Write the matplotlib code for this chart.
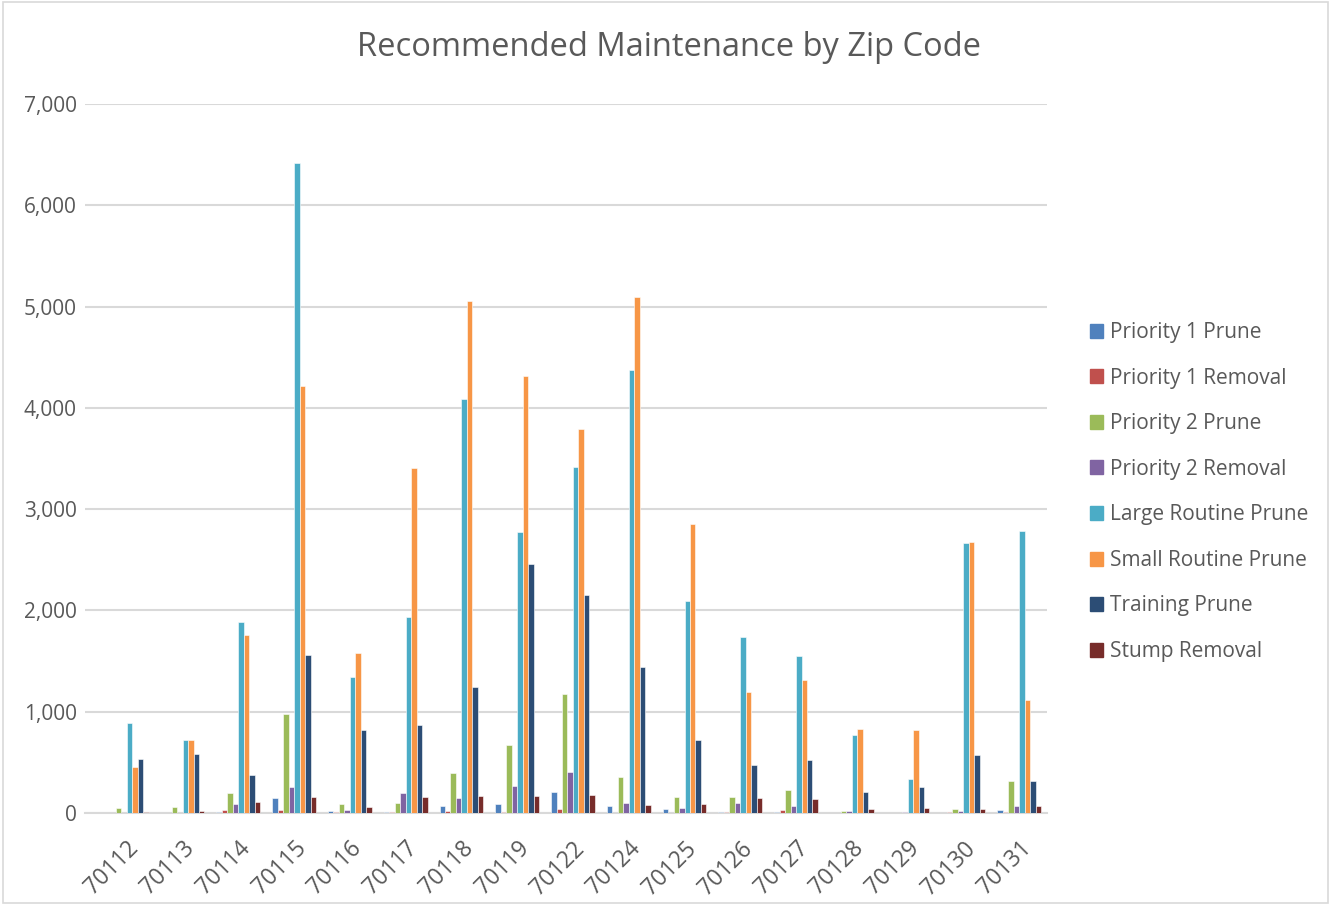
import matplotlib
matplotlib.use("Agg")
import matplotlib.pyplot as plt
import matplotlib.patches as mpatches
import numpy as np

zips = ['70112', '70113', '70114', '70115', '70116', '70117', '70118', '70119', '70122',
        '70124', '70125', '70126', '70127', '70128', '70129', '70130', '70131']

series = ['Priority 1 Prune', 'Priority 1 Removal', 'Priority 2 Prune', 'Priority 2 Removal',
          'Large Routine Prune', 'Small Routine Prune', 'Training Prune', 'Stump Removal']

p1_prune = [0, 3, 10, 145, 20, 5, 69, 86, 205, 69, 36, 5, 10, 0, 0, 0, 30]
p1_removal = [0, 0, 30, 30, 10, 10, 20, 10, 40, 0, 0, 10, 30, 0, 0, 10, 10]
p2_prune = [50, 60, 198, 975, 92, 99, 396, 673, 1178, 356, 158, 158, 228, 20, 0, 36, 320]
p2_removal = [0, 0, 92, 257, 30, 198, 152, 264, 400, 99, 50, 96, 73, 17, 10, 20, 69]
large_routine = [885, 723, 1885, 6420, 1343, 1935, 4090, 2772, 3412, 4378, 2093, 1737, 1550, 772, 337, 2665, 2786]
small_routine = [455, 723, 1760, 4212, 1575, 3410, 5058, 4318, 3790, 5098, 2853, 1195, 1315, 832, 815, 2672, 1112]
training = [530, 585, 376, 1560, 818, 871, 1243, 2458, 2154, 1441, 723, 475, 521, 208, 257, 574, 317]
stump = [13, 23, 109, 155, 56, 155, 172, 168, 175, 83, 92, 149, 139, 40, 46, 40, 66]

values = [p1_prune, p1_removal, p2_prune, p2_removal, large_routine, small_routine, training, stump]
colors = ['#4f81bd', '#c0504d', '#9bbb59', '#8064a2', '#4bacc6', '#f79646', '#2c4d75', '#772c2a']

plt.rcParams['font.family'] = ['Open Sans', 'DejaVu Sans']

fig = plt.figure(figsize=(13.31, 9.05), dpi=100)
ax = fig.add_axes([85 / 1331, 1 - 813 / 905, (1047 - 85) / 1331, (813 - 104) / 905])

x = np.arange(len(zips))
slot = 1 / (8 + 2.19)
for i, (vals, c, name) in enumerate(zip(values, colors, series)):
    ax.bar(x + (i - 3.5) * slot, vals, width=slot, color=c, edgecolor='white',
           linewidth=0.4, label=name, zorder=3)

# category axis starts a little right of where the gridlines begin
ax.set_xlim(-0.75, len(zips) - 0.5)
ax.set_ylim(0, 7000)
ax.set_yticks(np.arange(0, 7001, 1000))
ax.set_yticklabels([f'{v:,}' for v in range(0, 7001, 1000)], fontsize=15, color='#595959')
ax.set_xticks(x)
ax.set_xticklabels(zips, rotation=45, ha='right', rotation_mode='anchor', fontsize=16.5, color='#595959')
ax.tick_params(axis='y', length=0, pad=6)
ax.tick_params(axis='x', length=0, pad=17)

for s in ['left', 'top', 'right']:
    ax.spines[s].set_visible(False)
ax.spines['bottom'].set_color('#d9d9d9')
ax.spines['bottom'].set_linewidth(1.5)
ax.grid(axis='y', color='#d9d9d9', linewidth=1.5, zorder=0)
ax.set_axisbelow(True)

fig.text(669 / 1331, 1 - 48 / 905, 'Recommended Maintenance by Zip Code', ha='center', va='center',
         fontsize=23.5, color='#595959')

handles = [mpatches.Patch(color=c, label=n) for c, n in zip(colors, series)]
fig.legend(handles=handles, loc='center left', bbox_to_anchor=(1071 / 1331, 1 - 492 / 905),
           frameon=False, fontsize=15, labelcolor='#595959', handlelength=0.65, handleheight=0.65,
           handletextpad=0.3, labelspacing=1.18)

fig.patches.append(mpatches.Rectangle((0.002, 0.002), 0.996, 0.996, transform=fig.transFigure,
                                      fill=False, edgecolor='#d9d9d9', linewidth=1.2))

fig.savefig('out.png', dpi=100)
